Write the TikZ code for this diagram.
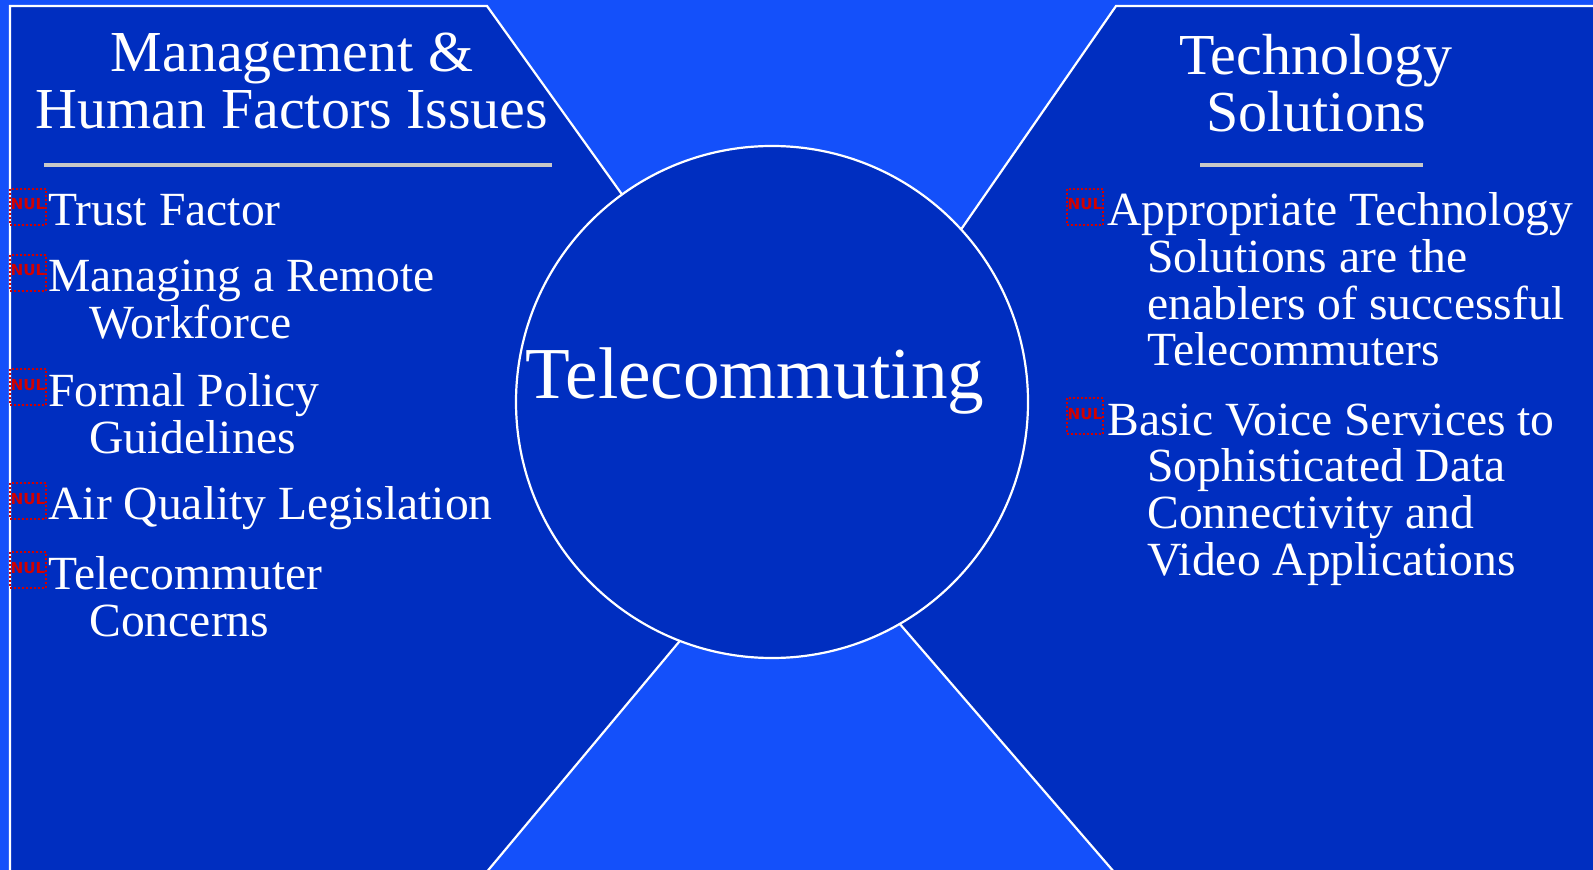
\documentclass[tikz,border=0pt]{standalone}
\usepackage{fontspec}
\setmainfont{Liberation Serif}
\setsansfont{DejaVu Sans}
\usepackage{tikz}
\usetikzlibrary{positioning}
\definecolor{bgblue}{RGB}{20,80,250}
\definecolor{panelblue}{RGB}{0,46,192}
\definecolor{rulegray}{RGB}{200,200,200}
\definecolor{nulred}{RGB}{210,0,0}
\tikzstyle{panel} = [fill=panelblue, draw=white, line width=1.1pt, line join=miter]
\tikzstyle{titletext} = [text=white, align=center, anchor=base, inner sep=0pt, font=\fontsize{29}{28.5}\selectfont]
\tikzstyle{itemtext} = [text=white, align=left, anchor=base west, inner sep=0pt, font=\fontsize{23.8}{23.4}\selectfont]
\tikzstyle{nulbox} = [rectangle, draw=nulred, densely dotted, line width=1pt, minimum width=18pt, minimum height=18pt, inner sep=0pt, anchor=south east, text=nulred, font=\sffamily\bfseries\fontsize{7.6}{7.6}\selectfont]
\tikzstyle{divider} = [rulegray, line width=2pt]

\begin{document}
\begin{tikzpicture}[x=0.5pt, y=-0.5pt]
% Background
\path[fill=bgblue, use as bounding box] (0,0) rectangle (1593,870);

% Side panels
\begin{scope}
\clip (0,0) rectangle (1593,870);
\draw[panel] (10,880) -- (10,6) -- (487,6) -- (689,288) -- (755,551) -- (480,880) -- cycle;
\draw[panel] (1603,6) -- (1116,6) -- (883,342) -- (797,505) -- (1121,880) -- (1603,880) -- cycle;
\end{scope}

% Hub
\node[circle, fill=panelblue, draw=white, line width=1.1pt, minimum size=256pt, inner sep=0pt] (hub) at (772,402) {};
\node[text=white, anchor=base, inner sep=0pt, font=\fontsize{36.6}{36.6}\selectfont] (hubtext) at (755,399) {Telecommuting};

% Left panel (multi-line nodes sit on their last line)
\node[titletext] (lefttitle) at (292,129) {Management \&\\Human Factors Issues};
\draw[divider] (44,165) -- (552,165);

\node[itemtext] (trust) at (48,225.6) {Trust Factor};
\node[itemtext] (remote) at (48,338.5) {Managing a Remote\\\hspace*{20.5pt}Workforce};
\node[itemtext] (policy) at (48,453.5) {Formal Policy\\\hspace*{20.5pt}Guidelines};
\node[itemtext] (air) at (48,520) {Air Quality Legislation};
\node[itemtext] (concerns) at (48,636) {Telecommuter\\\hspace*{20.5pt}Concerns};

\node[nulbox] (nul1) at (47,225.6) {\raisebox{2.5pt}{NUL}};
\node[nulbox] (nul2) at (47,291.6) {\raisebox{2.5pt}{NUL}};
\node[nulbox] (nul3) at (47,406.4) {\raisebox{2.5pt}{NUL}};
\node[nulbox] (nul4) at (47,520) {\raisebox{2.5pt}{NUL}};
\node[nulbox] (nul5) at (47,589) {\raisebox{2.5pt}{NUL}};

% Right panel
\node[titletext] (righttitle) at (1316,132) {Technology\\Solutions};
\draw[divider] (1200,165) -- (1423,165);

\node[itemtext] (enablers) at (1107,366) {Appropriate Technology\\\hspace*{20pt}Solutions are the\\\hspace*{20pt}enablers of successful\\\hspace*{20pt}Telecommuters};
\node[itemtext] (voice) at (1107,575.5) {Basic Voice Services to\\\hspace*{20pt}Sophisticated Data\\\hspace*{20pt}Connectivity and\\\hspace*{20pt}Video Applications};

\node[nulbox] (nul6) at (1104,225.6) {\raisebox{2.5pt}{NUL}};
\node[nulbox] (nul7) at (1104,435) {\raisebox{2.5pt}{NUL}};
\end{tikzpicture}
\end{document}
